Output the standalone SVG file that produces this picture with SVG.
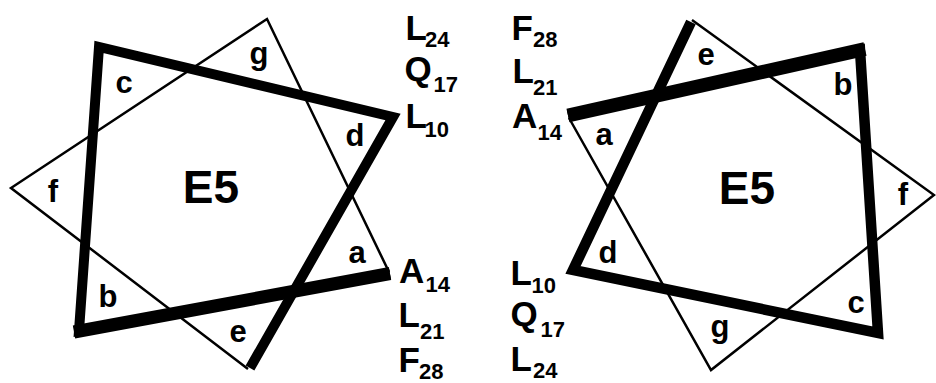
<svg xmlns="http://www.w3.org/2000/svg" width="936" height="383" viewBox="0 0 936 383">
  <style>
    .thin { fill: none; stroke: #000; stroke-width: 2.5; stroke-linejoin: miter; stroke-linecap: butt; }
    .thick { fill: none; stroke: #000; stroke-linejoin: miter; stroke-linecap: butt; }
    text { font-family: "Liberation Sans", Arial, sans-serif; font-weight: bold; fill: #000; }
    .pos { font-size: 31px; text-anchor: middle; }
    .title { font-size: 46px; text-anchor: middle; }
    .res { font-size: 35px; }
    .sub { font-size: 22px; }
  </style>
  <rect width="936" height="383" fill="#fff"/>

  <!-- Left helical wheel -->
  <g id="wheel-left">
    <g id="wheel-left-lines">
      <path class="thin" d="M 248,369 L 11,188 L 267,19 L 389,272"/>
      <path class="thick" stroke-width="10" d="M 390,274 L 79,331 L 99,47 L 393,117 L 250,368"/>
      <line class="thick" stroke-width="13" x1="390" y1="273.5" x2="74" y2="332"/>
    </g>
    <text class="title" x="211" y="203">E5</text>
    <text class="pos" x="259" y="64">g</text>
    <text class="pos" x="124" y="93">c</text>
    <text class="pos" x="355" y="146">d</text>
    <text class="pos" x="53" y="202">f</text>
    <text class="pos" x="357" y="263">a</text>
    <text class="pos" x="108" y="307">b</text>
    <text class="pos" x="238" y="342">e</text>
  </g>

  <!-- Right helical wheel -->
  <g id="wheel-right">
    <g id="wheel-right-lines">
      <path class="thin" d="M 692,20 L 934,195 L 711,370 L 569,118"/>
      <path class="thick" stroke-width="10.5" d="M 568,115.5 L 860,50 L 878,333 L 573,270 L 691,22"/>
      <line class="thick" stroke-width="14" x1="568" y1="115.5" x2="865" y2="49"/>
    </g>
    <text class="title" x="747" y="204">E5</text>
    <text class="pos" x="706" y="65">e</text>
    <text class="pos" x="843" y="95">b</text>
    <text class="pos" x="604" y="145">a</text>
    <text class="pos" x="903" y="205">f</text>
    <text class="pos" x="608" y="263">d</text>
    <text class="pos" x="856" y="313">c</text>
    <text class="pos" x="720" y="337">g</text>
  </g>

  <!-- Left residue column -->
  <g id="residues-left">
    <text><tspan class="res" x="405.5" y="40">L</tspan><tspan class="sub" x="425" y="47">24</tspan></text>
    <text><tspan class="res" x="404.6" y="81">Q</tspan><tspan class="sub" x="433.6" y="92">17</tspan></text>
    <text><tspan class="res" x="405.5" y="128">L</tspan><tspan class="sub" x="424.6" y="137">10</tspan></text>
    <text><tspan class="res" x="399" y="283">A</tspan><tspan class="sub" x="425.6" y="292">14</tspan></text>
    <text><tspan class="res" x="398.5" y="327">L</tspan><tspan class="sub" x="420" y="339">21</tspan></text>
    <text><tspan class="res" x="398.5" y="372">F</tspan><tspan class="sub" x="419" y="379">28</tspan></text>
  </g>

  <!-- Right residue column -->
  <g id="residues-right">
    <text><tspan class="res" x="511.5" y="40">F</tspan><tspan class="sub" x="533" y="47">28</tspan></text>
    <text><tspan class="res" x="512.5" y="83">L</tspan><tspan class="sub" x="533" y="95">21</tspan></text>
    <text><tspan class="res" x="512" y="128">A</tspan><tspan class="sub" x="537.6" y="140">14</tspan></text>
    <text><tspan class="res" x="510.5" y="285">L</tspan><tspan class="sub" x="531.6" y="293">10</tspan></text>
    <text><tspan class="res" x="510.6" y="326">Q</tspan><tspan class="sub" x="540.6" y="337">17</tspan></text>
    <text><tspan class="res" x="510.5" y="371">L</tspan><tspan class="sub" x="533" y="378">24</tspan></text>
  </g>
</svg>
